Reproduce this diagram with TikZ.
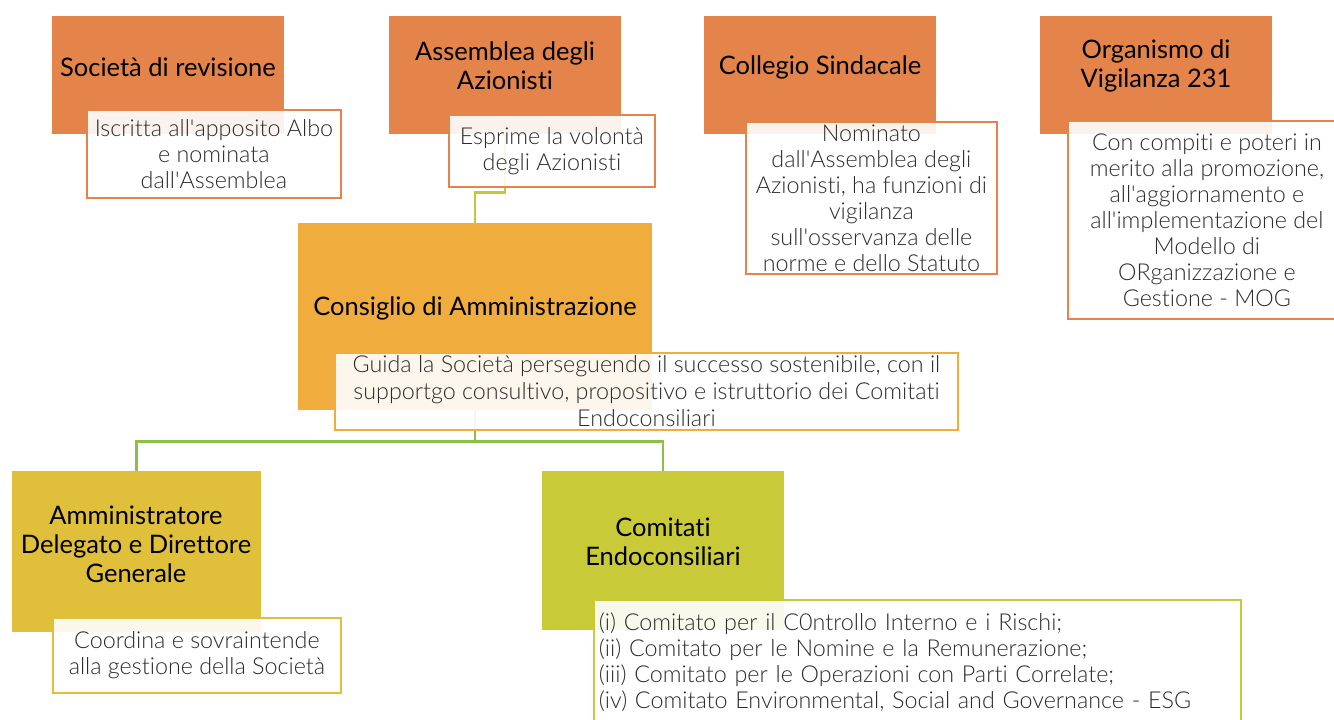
\documentclass[tikz,border=0pt]{standalone}
\usepackage{fontspec}
\setmainfont{Lato}[Ligatures={NoCommon,TeX}]
\newfontfamily\lightfont{Lato Light}[Ligatures={NoCommon,TeX}]
\newcommand\ap{\textquotesingle}
\definecolor{orgA}{HTML}{E5844A}
\definecolor{orgB}{HTML}{F0AD3E}
\definecolor{orgC}{HTML}{E0BF3A}
\definecolor{orgD}{HTML}{C9CA37}
\definecolor{linkA}{HTML}{C3C83A}
\definecolor{linkB}{HTML}{8DBE45}
\definecolor{desccol}{HTML}{2B2B2B}
\begin{document}
\begin{tikzpicture}[x=1pt,y=-1pt,
  mainbox/.style={fill=#1, draw=none, anchor=north west, inner sep=0pt},
  descbox/.style={draw=#1, line width=2.8pt, fill=white, fill opacity=0.9, text opacity=1, anchor=north west, inner sep=0pt, font=\lightfont\fontsize{23.3}{26}\selectfont, align=center, text=desccol},
  titletext/.style={font=\fontsize{25.5}{29}\selectfont, align=center, text=black, inner sep=0pt},
  link/.style={line width=2.5pt}]
\useasboundingbox (0,0) rectangle (1334,720);
% main boxes
\node[mainbox=orgA, minimum width=232pt, minimum height=118pt] (sr) at (52,16) {};
\node[mainbox=orgA, minimum width=232pt, minimum height=118pt] (as) at (389,16) {};
\node[mainbox=orgA, minimum width=232pt, minimum height=118pt] (cs) at (704,16) {};
\node[mainbox=orgA, minimum width=232pt, minimum height=118pt] (ov) at (1040,16) {};
\node[mainbox=orgB, minimum width=354pt, minimum height=187pt] (cda) at (298,223) {};
\node[mainbox=orgC, minimum width=249pt, minimum height=161pt] (ad) at (12,471) {};
\node[mainbox=orgD, minimum width=242pt, minimum height=159pt] (ce) at (542,471) {};
% titles
\node[titletext] (srT) at (168,67) {Società di revisione};
\node[titletext] (asT) at (505,66) {Assemblea degli\\Azionisti};
\node[titletext] (csT) at (820,67) {Collegio Sindacale};
\node[titletext] (ovT) at (1156,66) {Organismo di\\Vigilanza 231};
\node[titletext] (cdaT) at (475,308) {Consiglio di Amministrazione};
\node[titletext] (adT) at (136,544) {Amministratore\\Delegato e Direttore\\Generale};
\node[titletext] (ceT) at (663,542) {Comitati\\Endoconsiliari};
% connectors
\draw[link, draw=linkA] (as.south) -- ++(0,58) -| (cda.north);
\draw[link, draw=linkB] (cda.south) -- ++(0,31) coordinate (split) -| (ad.north);
\draw[link, draw=linkB] (split) -| (ce.north);
% description boxes
\node[descbox=orgA, minimum width=254pt, minimum height=88pt] (srD) at (85.5,108.5) {Iscritta all\ap apposito Albo\\e nominata\\dall\ap Assemblea};
\node[descbox=orgA, minimum width=206pt, minimum height=72pt] (asD) at (447.5,113.5) {Esprime la volontà\\degli Azionisti};
\node[descbox=orgA, minimum width=251pt, minimum height=152pt] (csD) at (744.5,120.5) {Nominato\\dall\ap Assemblea degli\\Azionisti, ha funzioni di\\vigilanza\\sull\ap osservanza delle\\norme e dello Statuto};
\node[descbox=orgA, minimum width=278pt, minimum height=198pt] (ovD) at (1066.5,119.5) {Con compiti e poteri in\\merito alla promozione,\\all\ap aggiornamento e\\all\ap implementazione del\\Modello di\\ORganizzazione e\\Gestione - MOG};
\node[descbox=orgB, minimum width=623pt, minimum height=77pt, font=\lightfont\fontsize{23.3}{27}\selectfont] (cdaD) at (333.5,351.5) {Guida la Società perseguendo il successo sostenibile, con il\\supportgo consultivo, propositivo e istruttorio dei Comitati\\Endoconsiliari};
\node[descbox=orgC, minimum width=288pt, minimum height=75pt] (adD) at (51.5,616.5) {Coordina e sovraintende\\alla gestione della Società};
\node[descbox=orgD, minimum height=124pt, text width=637pt, inner xsep=5pt, align=left] (ceD) at (592.5,598.5) {(i) Comitato per il C0ntrollo Interno e i Rischi;\\(ii) Comitato per le Nomine e la Remunerazione;\\(iii) Comitato per le Operazioni con Parti Correlate;\\(iv) Comitato Environmental, Social and Governance - ESG};
\end{tikzpicture}
\end{document}
